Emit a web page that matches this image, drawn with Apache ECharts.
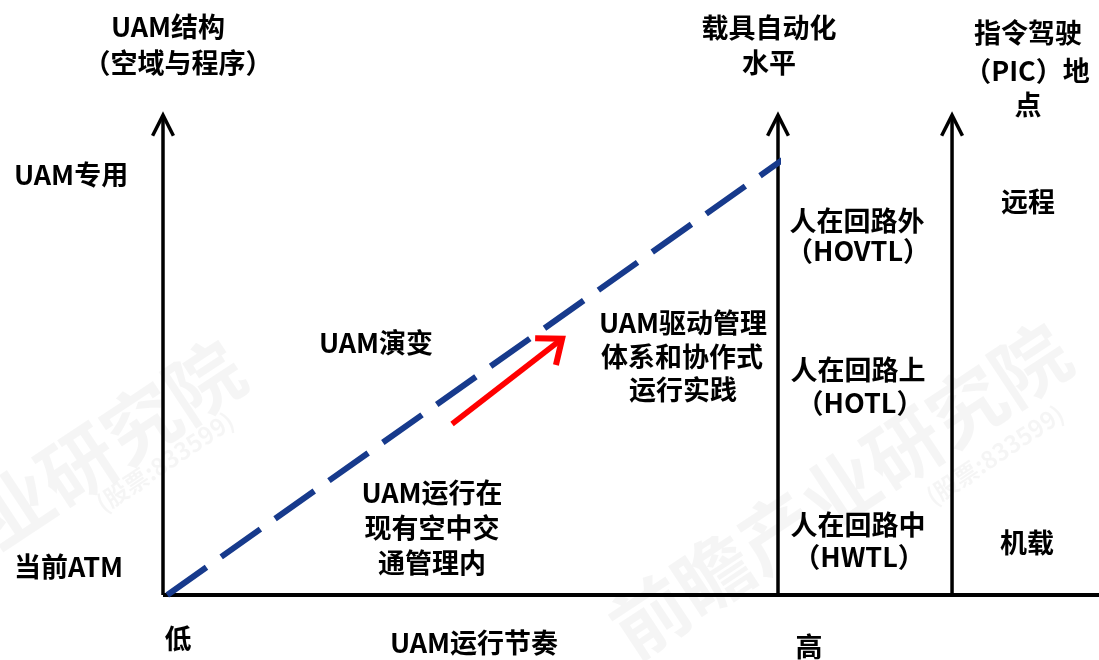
<!DOCTYPE html>
<html>
<head>
<meta charset="utf-8">
<script src="https://cdn.jsdelivr.net/npm/echarts@6/dist/echarts.min.js"></script>
<style>
  html, body { margin: 0; padding: 0; background: #ffffff; }
  #chart { width: 1099px; height: 660px; }
</style>
</head>
<body>
<div id="chart"></div>
<script>
// ---------- data (conceptual units: x = UAM运行节奏 0 低 → 1 高, y = UAM结构 0 当前ATM → 1 UAM专用) ----------
const xLevelLabels = ['低', '高'];
const xAxisName = 'UAM运行节奏';
const yLevelLabels = ['当前ATM', 'UAM专用'];
const axisTitles = [
  ['UAM结构', '（空域与程序）'],
  ['载具自动化', '水平'],
  ['指令驾驶', '（PIC）地', '点']
];
const automationLevels = [
  ['人在回路外', '（HOVTL）'],
  ['人在回路上', '（HOTL）'],
  ['人在回路中', '（HWTL）']
];
const picLocations = ['远程', '机载'];
const evolutionLabel = 'UAM演变';
const zoneLabels = [
  ['UAM驱动管理', '体系和协作式', '运行实践'],
  ['UAM运行在', '现有空中交', '通管理内']
];
// dashed evolution path (start, end)
const evolutionPath = [[0.007, 0], [1.007, 1]];
// red trend arrow (x1, y1, x2, y2)
const trendArrow = [[0.47, 0.393, 0.649, 0.589]];
// vertical axes with arrow heads (x1, y1, x2, y2)
const verticalAxes = [
  [0, 0, 0, 1.103],
  [1, 0, 1, 1.103],
  [1.283, 0, 1.283, 1.103]
];
// horizontal base axis
const baseAxis = [[0, 0, 1.53, 0]];
const watermarkText = '前瞻产业研究院';
const watermarkSub = '(股票:833599)';

// ---------- rendering ----------
const FONT_FAMILY = "'Noto Sans CJK SC', sans-serif";
const FS = 27;

function arrowRenderer(color, width, headLen, headAngle, headWidth) {
  return function (params, api) {
    const a = api.coord([api.value(0), api.value(1)]);
    const b = api.coord([api.value(2), api.value(3)]);
    const ang = Math.atan2(b[1] - a[1], b[0] - a[0]);
    const children = [{
      type: 'line',
      shape: { x1: a[0], y1: a[1], x2: b[0], y2: b[1] },
      style: { stroke: color, lineWidth: width, lineCap: 'butt' }
    }];
    if (headLen > 0) {
      const l = [b[0] - headLen * Math.cos(ang - headAngle), b[1] - headLen * Math.sin(ang - headAngle)];
      const r = [b[0] - headLen * Math.cos(ang + headAngle), b[1] - headLen * Math.sin(ang + headAngle)];
      children.push({
        type: 'polyline',
        shape: { points: [l, [b[0], b[1]], r] },
        style: { stroke: color, lineWidth: headWidth, fill: null, lineJoin: 'miter', lineCap: 'butt' }
      });
    }
    return { type: 'group', children: children };
  };
}

function textEl(str, x, y, align) {
  return {
    type: 'text',
    x: x, y: y,
    z: 100,
    silent: true,
    style: {
      text: str,
      fill: '#000000',
      font: 'bold ' + FS + 'px ' + FONT_FAMILY,
      textAlign: align || 'center',
      textVerticalAlign: 'middle'
    }
  };
}

function block(lines, centers) {
  return lines.map((s, i) => textEl(s, centers[i][0], centers[i][1]));
}

const graphics = [];
// watermarks (very faint)
const wmStyle = (size) => ({
  fill: 'rgba(0,0,0,0.04)',
  font: 'bold ' + size + 'px "Noto Sans CJK SC", sans-serif',
  textAlign: 'center',
  textVerticalAlign: 'middle'
});
graphics.push({ type: 'text', x: 14, y: 507, rotation: 0.585, z: 1, silent: true, style: Object.assign({ text: watermarkText }, wmStyle(76)) });
graphics.push({ type: 'text', x: 165, y: 462, rotation: 0.585, z: 1, silent: true, style: Object.assign({ text: watermarkSub }, wmStyle(24)) });
graphics.push({ type: 'text', x: 840, y: 490, rotation: 0.585, z: 1, silent: true, style: Object.assign({ text: watermarkText }, wmStyle(76)) });
graphics.push({ type: 'text', x: 995, y: 455, rotation: 0.585, z: 1, silent: true, style: Object.assign({ text: watermarkSub }, wmStyle(24)) });

// axis titles
graphics.push(...block(axisTitles[0], [[168, 27], [178, 63]]));
graphics.push(...block(axisTitles[1], [[769, 28], [769, 63]]));
graphics.push(...block(axisTitles[2], [[1028, 33], [1027, 71], [1028, 105]]));
// y level labels (left aligned)
graphics.push(textEl(yLevelLabels[1], 14, 175, 'left'));
graphics.push(textEl(yLevelLabels[0], 14, 567, 'left'));
// x level labels and name
graphics.push(textEl(xLevelLabels[0], 178, 639));
graphics.push(textEl(xLevelLabels[1], 809, 647));
graphics.push(textEl(xAxisName, 474, 643));
// automation levels
graphics.push(...block(automationLevels[0], [[857, 221], [858, 251]]));
graphics.push(...block(automationLevels[1], [[858, 370], [860, 403]]));
graphics.push(...block(automationLevels[2], [[858, 525], [859, 557]]));
// PIC locations
graphics.push(textEl(picLocations[0], 1028, 202));
graphics.push(textEl(picLocations[1], 1027, 543));
// zone labels
graphics.push(textEl(evolutionLabel, 376, 343));
graphics.push(...block(zoneLabels[0], [[683, 323], [682, 357], [683, 390]]));
graphics.push(...block(zoneLabels[1], [[432, 493], [432, 528], [432, 563]]));

const chart = echarts.init(document.getElementById('chart'), null, { renderer: 'canvas' });
chart.setOption({
  animation: false,
  backgroundColor: '#ffffff',
  grid: { left: 163, top: 160, width: 615, height: 435 },
  xAxis: { type: 'value', min: 0, max: 1, show: false },
  yAxis: { type: 'value', min: 0, max: 1, show: false },
  graphic: graphics,
  series: [
    {
      type: 'custom',
      name: 'baseAxis',
      clip: false,
      z: 3,
      silent: true,
      renderItem: arrowRenderer('#000000', 4, 0, 0, 0),
      data: baseAxis
    },
    {
      type: 'custom',
      name: 'verticalAxes',
      clip: false,
      z: 3,
      silent: true,
      renderItem: arrowRenderer('#000000', 3.5, 23, 0.47, 3.5),
      data: verticalAxes
    },
    {
      type: 'line',
      name: evolutionLabel,
      data: evolutionPath,
      symbol: 'none',
      clip: false,
      z: 5,
      silent: true,
      lineStyle: { color: '#173a8c', width: 6, type: [48, 18], cap: 'butt' }
    },
    {
      type: 'custom',
      name: 'trend',
      clip: false,
      z: 6,
      silent: true,
      renderItem: arrowRenderer('#ff0000', 5.5, 27, 0.68, 6),
      data: trendArrow
    }
  ]
});
</script>
</body>
</html>
